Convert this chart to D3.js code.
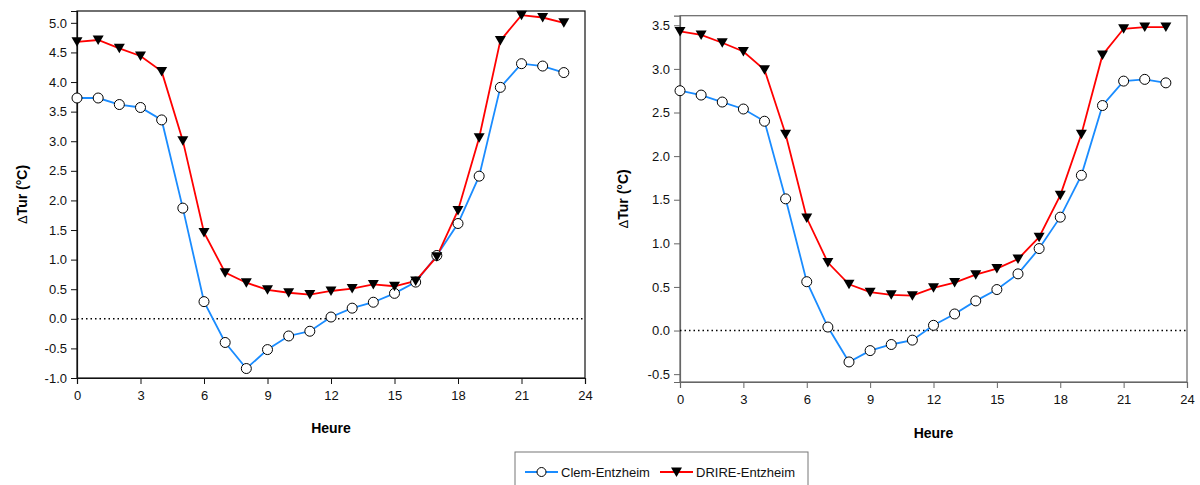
<!DOCTYPE html>
<html><head><meta charset="utf-8">
<script src="https://cdn.jsdelivr.net/npm/d3@7"></script>
<style>body{margin:0;background:#fff;} svg{display:block;font-family:"Liberation Sans",Arial,sans-serif;}</style>
</head><body>
<svg id="c" width="1200" height="485"></svg>
<script>
const hours = d3.range(0, 24);
const xTicks = [0, 3, 6, 9, 12, 15, 18, 21, 24];
const leftYTicks = [-1.0, -0.5, 0.0, 0.5, 1.0, 1.5, 2.0, 2.5, 3.0, 3.5, 4.0, 4.5, 5.0];
const rightYTicks = [-0.5, 0.0, 0.5, 1.0, 1.5, 2.0, 2.5, 3.0, 3.5];
const seriesNames = ["Clem-Entzheim", "DRIRE-Entzheim"];

const leftClem  = [3.73, 3.73, 3.62, 3.57, 3.36, 1.87, 0.29, -0.40, -0.84, -0.52, -0.29, -0.21, 0.03, 0.18, 0.28, 0.43, 0.62, 1.07, 1.61, 2.41, 3.91, 4.31, 4.27, 4.16];
const leftDrire = [4.68, 4.71, 4.57, 4.44, 4.18, 3.01, 1.46, 0.78, 0.61, 0.49, 0.44, 0.41, 0.47, 0.51, 0.58, 0.55, 0.64, 1.05, 1.83, 3.06, 4.70, 5.13, 5.09, 5.00];
const rightClem  = [2.75, 2.70, 2.62, 2.54, 2.40, 1.51, 0.56, 0.04, -0.36, -0.23, -0.16, -0.11, 0.06, 0.19, 0.34, 0.47, 0.65, 0.94, 1.30, 1.78, 2.58, 2.86, 2.88, 2.84];
const rightDrire = [3.43, 3.39, 3.30, 3.20, 2.99, 2.25, 1.29, 0.78, 0.53, 0.44, 0.41, 0.40, 0.49, 0.55, 0.64, 0.71, 0.82, 1.07, 1.55, 2.25, 3.16, 3.46, 3.48, 3.48];

const svg = d3.select("#c");
const blue = "#1a8cff", red = "#ff0000";
const triPath = "M-5.5,-4.5L5.5,-4.5L0,5Z";

function panel(cfg) {
  const x = d3.scaleLinear().domain([0, 24]).range([cfg.x0, cfg.x1]);
  const y = d3.scaleLinear().domain(cfg.yDom).range([cfg.y1, cfg.y0]);
  const g = svg.append("g");
  g.append("rect").attr("x", cfg.x0).attr("y", cfg.y0).attr("width", cfg.x1 - cfg.x0).attr("height", cfg.y1 - cfg.y0)
    .attr("fill", "none").attr("stroke", cfg.frame).attr("stroke-width", 1.2);
  const ya = g.append("g").attr("transform", `translate(${cfg.x0},0)`)
    .call(d3.axisLeft(y).tickValues(cfg.yTicks).tickFormat(v => v.toFixed(1)).tickSize(6).tickPadding(4));
  const xa = g.append("g").attr("transform", `translate(0,${cfg.y1})`)
    .call(d3.axisBottom(x).tickValues(xTicks).tickFormat(d3.format("d")).tickSize(6).tickPadding(7));
  [ya, xa].forEach(a => {
    a.select(".domain").attr("stroke", cfg.frame).attr("stroke-width", 1.2);
    a.selectAll(".tick line").attr("stroke", cfg.frame);
    a.selectAll("text").attr("font-size", 13).attr("fill", "#111").attr("font-family", "Liberation Sans, Arial, sans-serif");
  });
  g.append("line").attr("x1", cfg.x0).attr("x2", cfg.x1).attr("y1", y(0)).attr("y2", y(0))
    .attr("stroke", "#000").attr("stroke-width", 1.5).attr("stroke-dasharray", "1.5,3");
  const line = d3.line().x((d, i) => x(hours[i])).y(d => y(d));
  g.append("path").datum(cfg.clem).attr("d", line).attr("fill", "none").attr("stroke", blue).attr("stroke-width", 1.8);
  g.append("path").datum(cfg.drire).attr("d", line).attr("fill", "none").attr("stroke", red).attr("stroke-width", 1.8);
  g.selectAll("circle.m").data(cfg.clem).join("circle").attr("class", "m")
    .attr("cx", (d, i) => x(hours[i])).attr("cy", d => y(d)).attr("r", 5)
    .attr("fill", "#fff").attr("stroke", "#000").attr("stroke-width", 1);
  g.selectAll("path.t").data(cfg.drire).join("path").attr("class", "t")
    .attr("d", triPath).attr("transform", (d, i) => `translate(${x(hours[i])},${y(d)})`).attr("fill", "#000");
  g.append("text").attr("x", (cfg.x0 + cfg.x1) / 2).attr("y", cfg.xLabY).attr("text-anchor", "middle")
    .attr("font-size", 14).attr("font-weight", "bold").text("Heure");
  const yl = g.append("text").attr("transform", `translate(${cfg.yLabX},${(cfg.y0 + cfg.y1) / 2}) rotate(-90)`)
    .attr("text-anchor", "middle").attr("font-size", 14).attr("font-weight", "bold");
  yl.append("tspan").attr("font-weight", "normal").attr("font-size", 13).text("\u0394");
  yl.append("tspan").text("Tur (°C)");
}

panel({x0: 77, x1: 585, y0: 11, y1: 378, yDom: [-1.0, 5.2], yTicks: leftYTicks,
  clem: leftClem, drire: leftDrire, frame: "#111", xLabY: 433, yLabX: 27});
panel({x0: 680, x1: 1187, y0: 15.7, y1: 382, yDom: [-0.59, 3.61], yTicks: rightYTicks,
  clem: rightClem, drire: rightDrire, frame: "#666", xLabY: 438, yLabX: 628});

const lg = svg.append("g");
lg.append("rect").attr("x", 515).attr("y", 452).attr("width", 293).attr("height", 45)
  .attr("fill", "#fff").attr("stroke", "#777").attr("stroke-width", 1);
const items = [{name: seriesNames[0], x: 525, c: blue, m: "circle"}, {name: seriesNames[1], x: 660, c: red, m: "tri"}];
items.forEach(it => {
  const cy = 472;
  lg.append("line").attr("x1", it.x).attr("x2", it.x + 33).attr("y1", cy).attr("y2", cy).attr("stroke", it.c).attr("stroke-width", 1.8);
  if (it.m === "circle") lg.append("circle").attr("cx", it.x + 16.5).attr("cy", cy).attr("r", 4.5).attr("fill", "#fff").attr("stroke", "#000");
  else lg.append("path").attr("d", triPath).attr("transform", `translate(${it.x + 16.5},${cy})`).attr("fill", "#000");
  lg.append("text").attr("x", it.x + 36).attr("y", cy + 4.5).attr("font-size", 13).attr("fill", "#111").text(it.name);
});
</script>
</body></html>
